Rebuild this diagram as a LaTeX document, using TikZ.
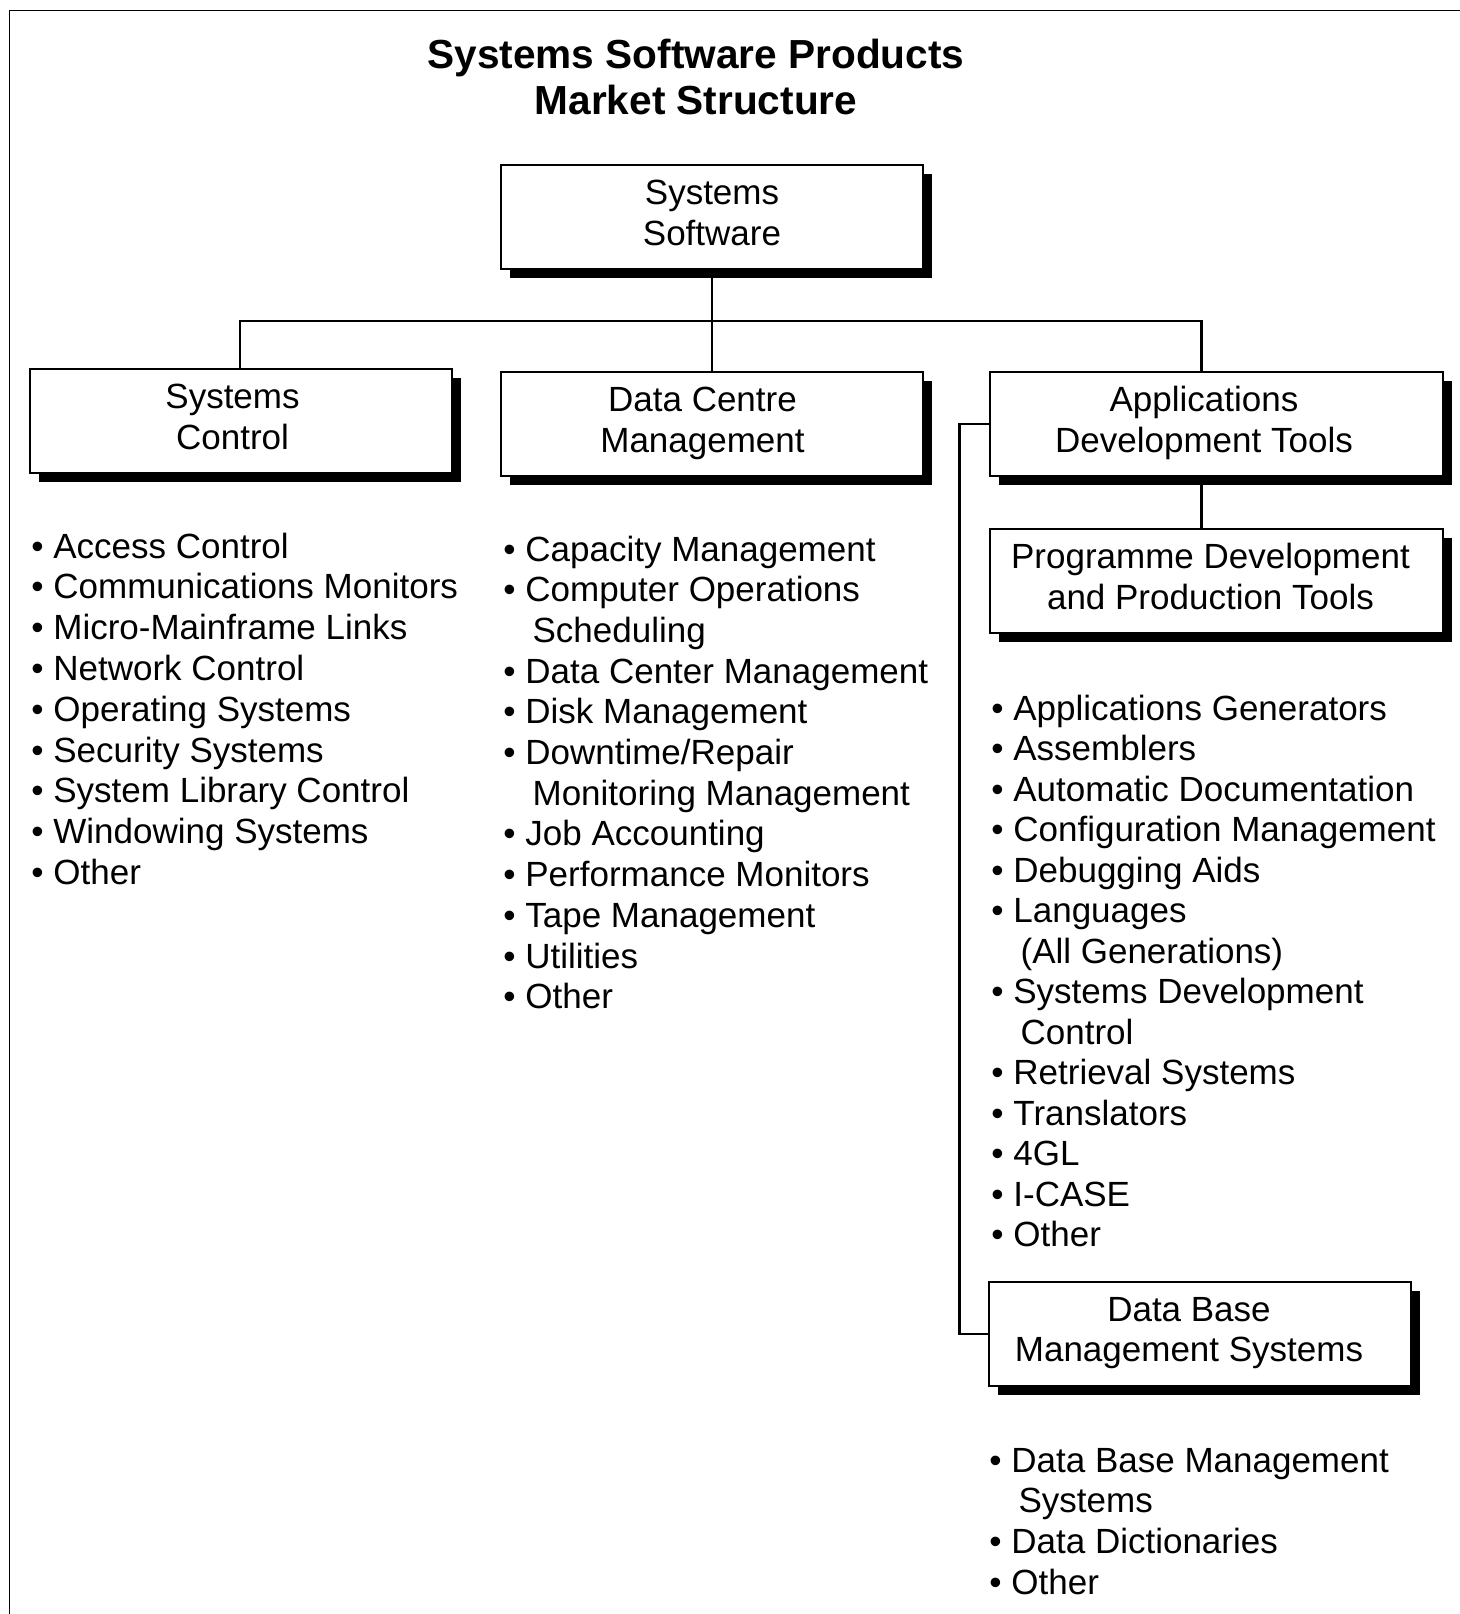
\documentclass[tikz,border=0pt]{standalone}
\usepackage{fontspec}
\setmainfont{Liberation Sans}
\usetikzlibrary{positioning,shadows}

\newcommand\bul{\makebox[11pt][l]{\textbullet}}
\newcommand\cnt{\hspace*{14.6pt}}
\newcommand\twoln[3][0pt]{#2\hspace*{#1}\\#3\hspace*{#1}}

\begin{document}
\begin{tikzpicture}[x=0.5pt, y=-0.5pt,
  every node/.style={font=\fontsize{17.5pt}{20.4pt}\selectfont},
  catbox/.style={draw, line width=1pt, fill=white, minimum width=211pt, minimum height=52pt, align=center, inner sep=0pt, execute at end node={\rule[-4.6pt]{0pt}{0pt}}, drop shadow={shadow xshift=4.5pt, shadow yshift=-4.5pt, fill=black, opacity=1}},
  widebox/.style={catbox, minimum width=226.5pt},
  entry/.style={anchor=base west, inner sep=0pt},
  link/.style={line width=1.2pt}]
  \useasboundingbox (0,0) rectangle (1460,1614);
  \draw[line width=0.8pt] (9.5,1614) -- (9.5,10.5) -- (1460,10.5);

  \node[anchor=north, inner sep=0pt, align=center, font=\bfseries\fontsize{20.3pt}{22.6pt}\selectfont] (title) at (696,39) {Systems Software Products\\Market Structure};

  \node[catbox] (root) at (712,217) {\twoln{Systems}{Software}};
  \node[catbox] (sc) at (241,421) {\twoln[8.5pt]{Systems}{Control}};
  \node[catbox] (dcm) at (712,424) {\twoln[9.5pt]{Data Centre}{Management}};
  \node[widebox] (adt) at (1216,424) {\twoln[12pt]{Applications}{Development Tools}};
  \node[widebox] (pdp) at (1216,581) {\twoln[5.5pt]{Programme Development}{and Production Tools}};
  \node[catbox] (dbms) at (1200,1334) {\twoln[11pt]{Data Base}{Management Systems}};

  \coordinate (busl) at (240,321);
  \coordinate (busr) at (1201.5,321);
  \draw[link] (root) -- (dcm);
  \draw[link] (sc.north -| busl) -- (busl) -- (busr) -- (busr |- adt.north);
  \draw[link] (adt.south -| busr) -- (busr |- pdp.north);
  \draw[link] (adt.west) -- ++(-29,0) |- (dbms.west);

  \foreach \t [count=\i from 0] in {{\bul Access Control}, {\bul Communications Monitors}, {\bul Micro-Mainframe Links}, {\bul Network Control}, {\bul Operating Systems}, {\bul Security Systems}, {\bul System Library Control}, {\bul Windowing Systems}, {\bul Other}}
    \node[entry] (sc-\i) at (31,{558+40.8*\i}) {\t};
  \foreach \t [count=\i from 0] in {{\bul Capacity Management}, {\bul Computer Operations}, {\cnt Scheduling}, {\bul Data Center Management}, {\bul Disk Management}, {\bul Downtime/Repair}, {\cnt Monitoring Management}, {\bul Job Accounting}, {\bul Performance Monitors}, {\bul Tape Management}, {\bul Utilities}, {\bul Other}}
    \node[entry] (dcm-\i) at (503,{561+40.7*\i}) {\t};
  \foreach \t [count=\i from 0] in {{\bul Applications Generators}, {\bul Assemblers}, {\bul Automatic Documentation}, {\bul Configuration Management}, {\bul Debugging Aids}, {\bul Languages}, {\cnt (All Generations)}, {\bul Systems Development}, {\cnt Control}, {\bul Retrieval Systems}, {\bul Translators}, {\bul 4GL}, {\bul I-CASE}, {\bul Other}}
    \node[entry] (pdp-\i) at (991,{720+40.5*\i}) {\t};
  \foreach \t [count=\i from 0] in {{\bul Data Base Management}, {\cnt Systems}, {\bul Data Dictionaries}, {\bul Other}}
    \node[entry] (dbms-\i) at (989,{1472+40.8*\i}) {\t};
\end{tikzpicture}
\end{document}
